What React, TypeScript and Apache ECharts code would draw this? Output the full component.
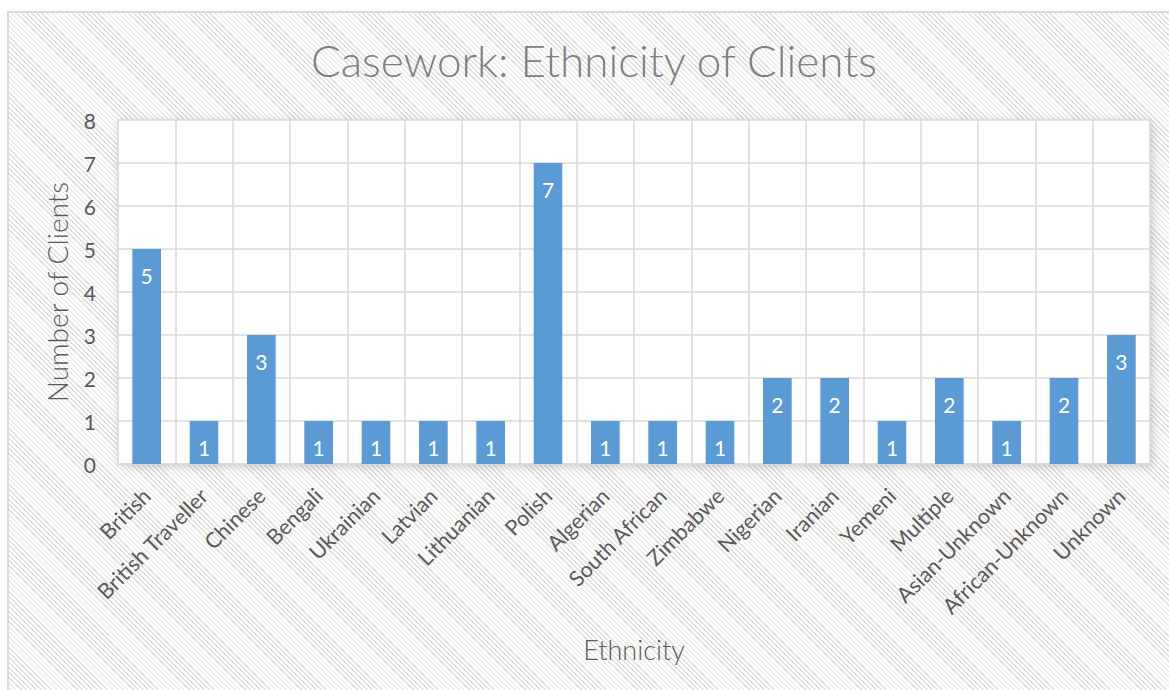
import React, { useEffect, useRef } from "react";
import * as echarts from "echarts";

const categories = [
  "British",
  "British Traveller",
  "Chinese",
  "Bengali",
  "Ukrainian",
  "Latvian",
  "Lithuanian",
  "Polish",
  "Algerian",
  "South African",
  "Zimbabwe",
  "Nigerian",
  "Iranian",
  "Yemeni",
  "Multiple",
  "Asian-Unknown",
  "African-Unknown",
  "Unknown",
];
const clientCounts = [5, 1, 3, 1, 1, 1, 1, 7, 1, 1, 1, 2, 2, 1, 2, 1, 2, 3];
const yTicks = { min: 0, max: 8, interval: 1 };

const titleText = "Casework: Ethnicity of Clients";
const xName = "Ethnicity";
const yName = "Number of Clients";

export default function App() {
  const ref = useRef<HTMLDivElement>(null);
  useEffect(() => {
    if (!ref.current) return;
    const chart = echarts.init(ref.current, null, { renderer: "svg" });
    const gridColor = "#d9d9d9";
    const labelColor = "#595959";
    chart.setOption({
      animation: false,
      backgroundColor: "transparent",
      graphic: [
        {
          type: "text",
          x: 594,
          y: 60,
          style: {
            text: titleText,
            font: "300 44px Lato",
            fill: "#7f7f7f",
            textAlign: "center",
            textVerticalAlign: "middle",
          },
        },
      ],
      grid: {
        left: 118,
        right: 19,
        top: 120,
        bottom: 226,
        show: true,
        backgroundColor: "#ffffff",
        borderWidth: 0,
        shadowBlur: 12,
        shadowColor: "rgba(0,0,0,0.22)",
        shadowOffsetX: 2,
        shadowOffsetY: 2,
      },
      xAxis: {
        type: "category",
        data: categories,
        boundaryGap: true,
        name: xName,
        nameLocation: "middle",
        nameGap: 172,
        nameTextStyle: {
          fontFamily: "Lato",
          fontWeight: 300,
          fontSize: 27,
          color: labelColor,
        },
        axisLine: { show: true, lineStyle: { color: gridColor, width: 1.5 } },
        axisTick: { show: false },
        axisLabel: {
          interval: 0,
          rotate: 45,
          margin: 28,
          fontFamily: "Lato",
          fontSize: 21.5,
          color: labelColor,
        },
        splitLine: {
          show: true,
          interval: 0,
          lineStyle: { color: gridColor, width: 1.5 },
        },
      },
      yAxis: {
        type: "value",
        min: yTicks.min,
        max: yTicks.max,
        interval: yTicks.interval,
        name: yName,
        nameLocation: "middle",
        nameGap: 47,
        nameTextStyle: {
          fontFamily: "Lato",
          fontWeight: 300,
          fontSize: 28,
          color: labelColor,
        },
        axisLine: { show: false },
        axisTick: { show: false },
        axisLabel: {
          margin: 22,
          fontFamily: "Lato",
          fontSize: 21,
          color: labelColor,
        },
        splitLine: { show: true, lineStyle: { color: gridColor, width: 1.5 } },
      },
      series: [
        {
          type: "bar",
          data: clientCounts,
          barCategoryGap: "50%",
          itemStyle: { color: "#5b9bd5" },
          label: {
            show: true,
            position: "insideTop",
            distance: 16,
            color: "#ffffff",
            fontFamily: "Lato",
            fontSize: 21,
          },
        },
      ],
    });
    return () => chart.dispose();
  }, []);

  return (
    <div
      style={{
        position: "fixed",
        left: 0,
        top: 0,
        width: 1169,
        height: 690,
        background: "#ffffff",
        overflow: "hidden",
      }}
    >
      <div
        style={{
          position: "absolute",
          left: 7,
          top: 11,
          width: 1200,
          height: 720,
          border: "2px solid #d9d9d9",
          background:
            "repeating-linear-gradient(45deg, #ffffff 0px, #ffffff 2.5px, #e0e0e0 2.5px, #e0e0e0 3.6px)",
        }}
      />
      <div
        ref={ref}
        style={{ position: "absolute", left: 0, top: 0, width: 1169, height: 690 }}
      />
    </div>
  );
}
